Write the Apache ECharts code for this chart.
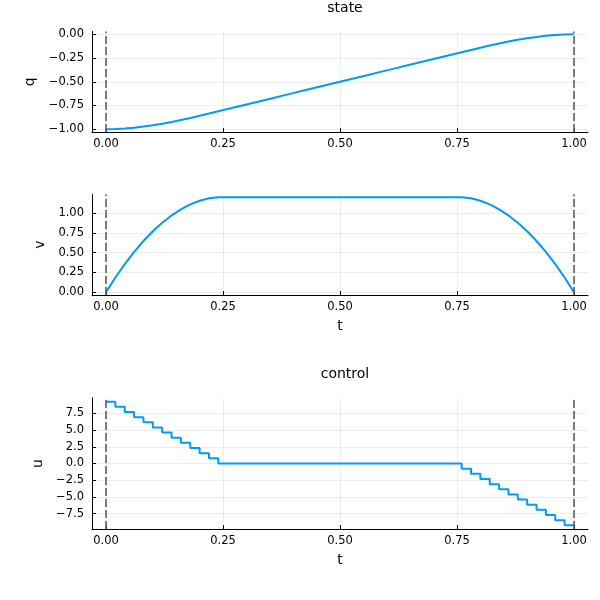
<!DOCTYPE html>
<html>
<head>
<meta charset="utf-8">
<script src="https://cdn.jsdelivr.net/npm/echarts@6/dist/echarts.min.js"></script>
<style>
html,body{margin:0;padding:0;background:#fff;}
#c{width:600px;height:600px;}
</style>
</head>
<body>
<div id="c"></div>
<script>
// time grid
const t = [0,0.02,0.04,0.06,0.08,0.10,0.12,0.14,0.16,0.18,0.20,0.22,0.24,0.26,0.28,0.30,0.32,0.34,0.36,0.38,0.40,0.42,0.44,0.46,0.48,0.50,0.52,0.54,0.56,0.58,0.60,0.62,0.64,0.66,0.68,0.70,0.72,0.74,0.76,0.78,0.80,0.82,0.84,0.86,0.88,0.90,0.92,0.94,0.96,0.98,1.00];
// state q
const q = [-1,-0.998,-0.9927,-0.9841,-0.9726,-0.9584,-0.9419,-0.9235,-0.9033,-0.8818,-0.8592,-0.8358,-0.8119,-0.7879,-0.7639,-0.7399,-0.7159,-0.6919,-0.6679,-0.6439,-0.6199,-0.5959,-0.5719,-0.5479,-0.5239,-0.5,-0.476,-0.452,-0.428,-0.404,-0.380,-0.356,-0.332,-0.308,-0.284,-0.260,-0.236,-0.212,-0.1881,-0.1642,-0.1408,-0.1182,-0.0967,-0.0765,-0.0581,-0.0416,-0.0274,-0.0159,-0.0073,-0.002,0];
// state v
const v = [0,0.185,0.354,0.508,0.646,0.769,0.877,0.969,1.046,1.108,1.154,1.185,1.2,1.2,1.2,1.2,1.2,1.2,1.2,1.2,1.2,1.2,1.2,1.2,1.2,1.2,1.2,1.2,1.2,1.2,1.2,1.2,1.2,1.2,1.2,1.2,1.2,1.2,1.2,1.185,1.154,1.108,1.046,0.969,0.877,0.769,0.646,0.508,0.354,0.185,0];
// control u (held on each interval; last value repeated at t=1)
const u = [9.23,8.46,7.69,6.92,6.15,5.38,4.62,3.85,3.08,2.31,1.54,0.77,0,0,0,0,0,0,0,0,0,0,0,0,0,0,0,0,0,0,0,0,0,0,0,0,0,0,-0.77,-1.54,-2.31,-3.08,-3.85,-4.62,-5.38,-6.15,-6.92,-7.69,-8.46,-9.23,-9.23];

const xTicks = [0,0.25,0.5,0.75,1];
const qTicks = [-1,-0.75,-0.5,-0.25,0];
const vTicks = [0,0.25,0.5,0.75,1];
const uTicks = [-7.5,-5,-2.5,0,2.5,5,7.5];
const bounds = [0,1];

const FONT = 'DejaVu Sans';
const pair = (xs, ys) => xs.map((x,i)=>[x, ys[i]]);
const fmt = d => (val => { const s = val.toFixed(d); return s.replace('-', '\u2212'); });

function xAxis(idx, name){
  return {
    gridIndex: idx, type:'value', min:-0.03, max:1.03,
    name: name, nameLocation:'middle', nameGap: 24,
    nameTextStyle:{fontFamily:FONT,fontSize:14,color:'#000'},
    axisLine:{show:true,onZero:false,lineStyle:{color:'#000',width:1}},
    axisTick:{show:true,inside:true,length:4,customValues:xTicks,lineStyle:{color:'#000'}},
    axisLabel:{customValues:xTicks,formatter:fmt(2),fontFamily:FONT,fontSize:11.5,color:'#000',margin:6},
    splitLine:{show:true,lineStyle:{color:'rgba(0,0,0,0.07)',width:1}}
  };
}
function yAxis(idx, name, min, max, ticks, dec, gap){
  return {
    gridIndex: idx, type:'value', min:min, max:max,
    name: name, nameLocation:'middle', nameGap: gap, nameRotate:90,
    nameTextStyle:{fontFamily:FONT,fontSize:14,color:'#000'},
    axisLine:{show:true,onZero:false,lineStyle:{color:'#000',width:1}},
    axisTick:{show:true,inside:true,length:4,customValues:ticks,lineStyle:{color:'#000'}},
    axisLabel:{customValues:ticks,formatter:fmt(dec),fontFamily:FONT,fontSize:11.5,color:'#000',margin:8},
    splitLine:{show:true,lineStyle:{color:'rgba(0,0,0,0.07)',width:1}}
  };
}
const blue = '#009AFA';
function boundLines(){
  return {
    silent:true, symbol:['none','none'], label:{show:false},
    lineStyle:{color:'#555',type:[8,3],width:1.5},
    data: bounds.map(b=>({xAxis:b}))
  };
}

const chart = echarts.init(document.getElementById('c'), null, {renderer:'canvas'});
chart.setOption({
  animation:false,
  backgroundColor:'#fff',
  title:[
    {text:'state', left:340, top:-4, textAlign:'center', textStyle:{fontFamily:FONT,fontSize:14,fontWeight:'normal',color:'#000'}},
    {text:'control', left:340, top:362, textAlign:'center', textStyle:{fontFamily:FONT,fontSize:14,fontWeight:'normal',color:'#000'}}
  ],
  grid:[
    {left:92, right:12, top:31.5, height:100.5},
    {left:92, right:12, top:194.3, height:100.7},
    {left:92, right:12, top:398, height:131}
  ],
  xAxis:[ xAxis(0,''), xAxis(1,'t'), xAxis(2,'t') ],
  yAxis:[
    yAxis(0,'q',-1.03,0.03,qTicks,2,44),
    yAxis(1,'v',-0.036,1.236,vTicks,2,43),
    yAxis(2,'u',-9.78,9.78,uTicks,1,44)
  ],
  series:[
    {type:'line', xAxisIndex:0, yAxisIndex:0, data:pair(t,q), showSymbol:false, lineStyle:{color:blue,width:2}, markLine:boundLines()},
    {type:'line', xAxisIndex:1, yAxisIndex:1, data:pair(t,v), showSymbol:false, lineStyle:{color:blue,width:2}, markLine:boundLines()},
    {type:'line', xAxisIndex:2, yAxisIndex:2, data:pair(t,u), step:'end', showSymbol:false, lineStyle:{color:blue,width:2}, markLine:boundLines()}
  ]
});
</script>
</body>
</html>
